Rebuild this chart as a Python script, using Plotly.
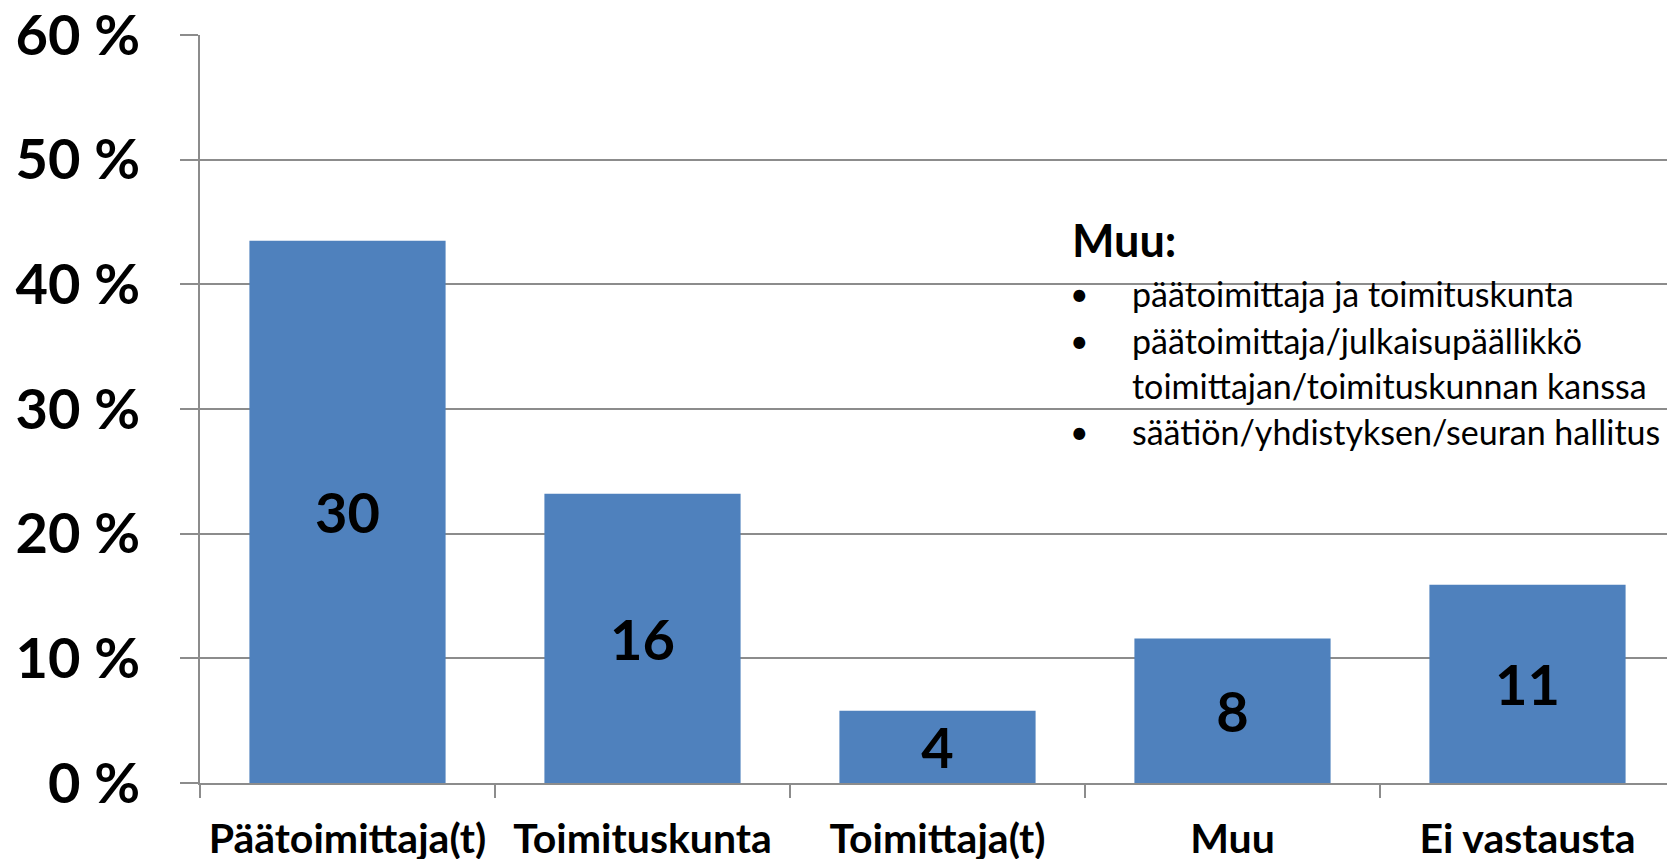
import plotly.graph_objects as go

categories = ["Päätoimittaja(t)", "Toimituskunta", "Toimittaja(t)", "Muu", "Ei vastausta"]
counts = [30, 16, 4, 8, 11]
percent = [43.5, 23.2, 5.8, 11.6, 15.9]
y_ticks = [0, 10, 20, 30, 40, 50, 60]
y_tick_labels = ["0 %", "10 %", "20 %", "30 %", "40 %", "50 %", "60 %"]

note_title = "Muu:"
note_items = [
    ("•", "päätoimittaja ja toimituskunta"),
    ("•", "päätoimittaja/julkaisupäällikkö"),
    ("", "toimittajan/toimituskunnan kanssa"),
    ("•", "säätiön/yhdistyksen/seuran hallitus"),
]

W, H = 1675, 859
OFF = 8  # default page body margin
# target plot area in viewport pixels: x 200..1675, y 35..783
L, R, T, B = 200 - OFF, OFF, 35 - OFF, H - 783 + OFF
pw, ph = W - L - R, H - T - B

def px(x):  # viewport pixel -> paper fraction
    return (x - OFF - L) / pw

def py(y):
    return (H - B - (y - OFF)) / ph

fig = go.Figure()
fig.add_trace(go.Bar(
    x=categories, y=percent,
    marker=dict(color="#4F81BD", line=dict(width=0)),
    text=[str(c) for c in counts],
    textposition="inside",
    insidetextanchor="middle",
    textangle=0,
    textfont=dict(family="Lato", size=56, color="black", weight="bold"),
    width=0.665,
    hoverinfo="skip",
))

grid = "#8C8C8C"
fig.update_layout(
    width=W, height=H,
    margin=dict(l=L, r=R, t=T, b=B, autoexpand=False),
    plot_bgcolor="white", paper_bgcolor="white",
    showlegend=False,
    uniformtext=dict(minsize=56, mode="show"),
    font=dict(family="Lato", color="black"),
)
fig.update_yaxes(
    range=[0, 60], tickvals=y_ticks, ticktext=y_tick_labels,
    showgrid=True, gridcolor=grid, gridwidth=1.5,
    ticks="outside", ticklen=18, tickcolor=grid, tickwidth=1.5,
    showline=True, linecolor=grid, linewidth=1.5,
    zeroline=False, automargin=False,
    tickfont=dict(family="Lato", size=56, color="black", weight="bold"),
    ticklabelstandoff=29,
    ticklabeloverflow="allow",
)
fig.update_xaxes(
    showgrid=False, tickson="boundaries",
    ticks="outside", ticklen=13, tickcolor=grid, tickwidth=1.5,
    showline=True, linecolor=grid, linewidth=1.5,
    automargin=False,
    tickfont=dict(family="Lato", size=41, color="black", weight="bold"),
    ticklabelstandoff=19,
    ticklabeloverflow="allow",
)

# white box behind the note (hides gridlines)
fig.add_shape(type="rect", xref="paper", yref="paper",
              x0=px(1069), x1=1.0, y0=py(510), y1=py(200),
              fillcolor="white", line=dict(width=0), layer="between")

fig.add_annotation(xref="paper", yref="paper", x=px(1070), y=py(240),
                   text="<b>" + note_title + "</b>", showarrow=False,
                   xanchor="left", yanchor="middle",
                   font=dict(family="Lato", size=45, color="black"))

line_ys = [293, 340, 385, 431]
for (bullet, txt), yy in zip(note_items, line_ys):
    if bullet:
        fig.add_annotation(xref="paper", yref="paper", x=px(1079), y=py(yy),
                           text=bullet, showarrow=False, xanchor="center", yanchor="middle",
                           font=dict(family="Lato", size=32, color="black"))
    fig.add_annotation(xref="paper", yref="paper", x=px(1130), y=py(yy),
                       text=txt, showarrow=False, xanchor="left", yanchor="middle",
                       font=dict(family="Lato", size=34, color="black"))

fig.write_html("out.html")
